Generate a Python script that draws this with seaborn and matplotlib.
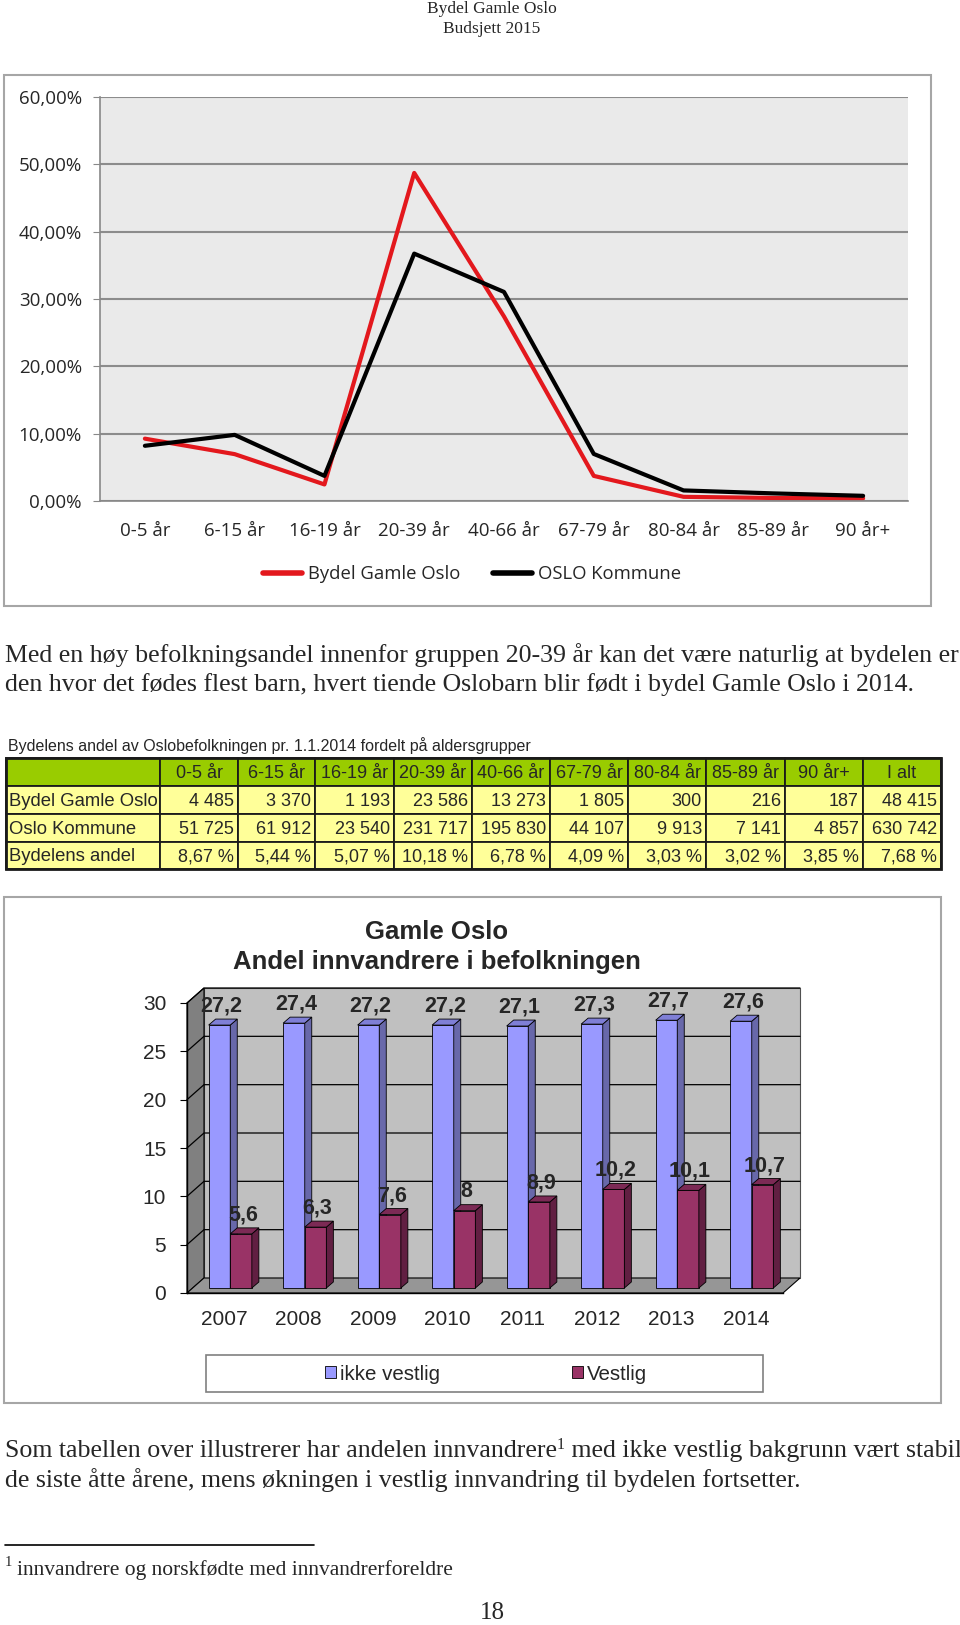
import numpy as np
import pandas as pd
import matplotlib
matplotlib.use("Agg")
import matplotlib.pyplot as plt
import matplotlib.patches as mpatches
from matplotlib.ticker import FuncFormatter
import seaborn as sns

W, H = 960, 1625

# linjediagram - andel av befolkningen per aldersgruppe
grupper = ['0-5 år', '6-15 år', '16-19 år', '20-39 år', '40-66 år', '67-79 år', '80-84 år', '85-89 år', '90 år+']
andel_gamle_oslo = [0.0926, 0.0696, 0.0246, 0.4872, 0.2741, 0.0373, 0.0062, 0.0045, 0.0039]
andel_oslo = [0.0820, 0.0982, 0.0373, 0.3674, 0.3105, 0.0699, 0.0157, 0.0113, 0.0077]
serier = ['Bydel Gamle Oslo', 'OSLO Kommune']

# tabell
tab_tittel = 'Bydelens andel av Oslobefolkningen pr. 1.1.2014 fordelt på aldersgrupper'
tab_kolonner = grupper + ['I alt']
tab_rader = ['Bydel Gamle Oslo', 'Oslo Kommune', 'Bydelens andel']
gamle_oslo_antall = ['4 485', '3 370', '1 193', '23 586', '13 273', '1 805', '300', '216', '187', '48 415']
oslo_antall = ['51 725', '61 912', '23 540', '231 717', '195 830', '44 107', '9 913', '7 141', '4 857', '630 742']
bydel_andel = ['8,67 %', '5,44 %', '5,07 %', '10,18 %', '6,78 %', '4,09 %', '3,03 %', '3,02 %', '3,85 %', '7,68 %']

# søylediagram - innvandrere
aar = ['2007', '2008', '2009', '2010', '2011', '2012', '2013', '2014']
ikke_vestlig = [27.2, 27.4, 27.2, 27.2, 27.1, 27.3, 27.7, 27.6]
vestlig = [5.6, 6.3, 7.6, 8, 8.9, 10.2, 10.1, 10.7]
bar_serier = ['ikke vestlig', 'Vestlig']

sns.set_style("white")
plt.rcParams['font.family'] = ['Liberation Sans', 'DejaVu Sans']
SERIF = ['Liberation Serif', 'DejaVu Serif']
CAL = ['Open Sans', 'DejaVu Sans']
FS_TEKST = 18.6


def box(l, t, r, b):
    return [l / W, 1 - b / H, (r - l) / W, (b - t) / H]


fig = plt.figure(figsize=(W / 100, H / 100), dpi=100)
bg = fig.add_axes([0, 0, 1, 1], zorder=0)
bg.set_xlim(0, W); bg.set_ylim(H, 0); bg.axis('off')

# sidehode
bg.text(492, 9, 'Bydel Gamle Oslo', ha='center', va='center', fontsize=12.5, family=SERIF)
bg.text(492, 29, 'Budsjett 2015', ha='center', va='center', fontsize=12.5, family=SERIF)

# ---- linjediagram ----
bg.add_patch(mpatches.Rectangle((4, 75), 927, 531, fill=False, ec='#a6a6a6', lw=1.5))
ax1 = fig.add_axes(box(100, 97, 908, 501), zorder=2)
df1 = pd.DataFrame({'pos': list(range(len(grupper))) * 2,
                    'andel': andel_gamle_oslo + andel_oslo,
                    'serie': [serier[0]] * len(grupper) + [serier[1]] * len(grupper)})
sns.lineplot(data=df1, x='pos', y='andel', hue='serie', palette={serier[0]: '#e3181d', serier[1]: 'black'},
             linewidth=3, ax=ax1, errorbar=None)
ax1.set_facecolor('#eaeaea')
ax1.set_xlim(-0.5, len(grupper) - 0.5); ax1.set_ylim(0, 0.6)
ax1.set_yticks(np.arange(0, 0.61, 0.1))
ax1.yaxis.set_major_formatter(FuncFormatter(lambda v, p: f"{v * 100:.2f}%".replace('.', ',')))
ax1.yaxis.grid(True, color='#8c8c8c', lw=1.5); ax1.set_axisbelow(True)
ax1.set_xticks(range(len(grupper))); ax1.set_xticklabels(grupper)
ax1.set_xticks(np.arange(-0.5, len(grupper), 1), minor=True)
ax1.tick_params(axis='x', which='major', length=0, pad=15, labelsize=13.5)
ax1.tick_params(axis='x', which='minor', length=6, color='#888888', width=1.2)
ax1.tick_params(axis='y', length=5, color='#888888', pad=8, labelsize=13.5, left=True)
for s in ['top', 'right']:
    ax1.spines[s].set_visible(False)
for s in ['left', 'bottom']:
    ax1.spines[s].set_color('#888888'); ax1.spines[s].set_linewidth(1.2)
ax1.set_xlabel(''); ax1.set_ylabel('')
plt.setp(ax1.get_xticklabels() + ax1.get_yticklabels(), family=CAL)
h, l = ax1.get_legend_handles_labels()
leg1 = ax1.legend(h, l, loc='center', bbox_to_anchor=(472 / W, 1 - 574 / H), bbox_transform=fig.transFigure,
                  ncol=2, frameon=False, handlelength=2.1, columnspacing=1.8, handletextpad=0.3,
                  prop={'family': CAL, 'size': 13.3})
for ln in leg1.get_lines():
    ln.set_linewidth(4)

# brødtekst
bg.text(5, 655, 'Med en høy befolkningsandel innenfor gruppen 20-39 år kan det være naturlig at bydelen er',
        va='center', fontsize=FS_TEKST, family=SERIF)
bg.text(5, 685, 'den hvor det fødes flest barn, hvert tiende Oslobarn blir født i bydel Gamle Oslo i 2014.',
        va='center', fontsize=FS_TEKST, family=SERIF)

# ---- tabell ----
bg.text(8, 746, tab_tittel, va='center', fontsize=11.5)
xk = [6, 160, 238, 315, 394, 472, 550, 628, 706, 785, 863, 941]
yr = [758, 786, 814, 842, 869]
celler = [[''] + tab_kolonner, [tab_rader[0]] + gamle_oslo_antall,
          [tab_rader[1]] + oslo_antall, [tab_rader[2]] + bydel_andel]
for i, rad in enumerate(celler):
    for j, tekst in enumerate(rad):
        fc = '#99cc00' if i == 0 else '#ffff99'
        bg.add_patch(mpatches.Rectangle((xk[j], yr[i]), xk[j + 1] - xk[j], yr[i + 1] - yr[i],
                                        fc=fc, ec='#1a1a1a', lw=1.3))
        ym = (yr[i] + yr[i + 1]) / 2 + 1
        if i == 0:
            bg.text((xk[j] + xk[j + 1]) / 2, ym, tekst, ha='center', va='center', fontsize=13)
        elif j == 0:
            bg.text(xk[j] + 3, ym, tekst, ha='left', va='center', fontsize=13.3)
        else:
            bg.text(xk[j + 1] - 4, ym, tekst, ha='right', va='center', fontsize=13)
bg.add_patch(mpatches.Rectangle((xk[0], yr[0]), xk[-1] - xk[0], yr[-1] - yr[0], fill=False, ec='#1a1a1a', lw=2))

# ---- søylediagram ----
bg.add_patch(mpatches.Rectangle((4, 897), 937, 506, fill=False, ec='#a6a6a6', lw=1.5))
bg.text(437, 932, 'Gamle Oslo', ha='center', va='center', fontsize=18.5, fontweight='bold')
bg.text(437, 962, 'Andel innvandrere i befolkningen', ha='center', va='center', fontsize=18.5, fontweight='bold')

ax2 = fig.add_axes(box(187, 1003, 783, 1293), zorder=2)
ax2.set_facecolor('none')
df2 = pd.DataFrame({'år': aar * 2, 'andel': ikke_vestlig + vestlig,
                    'serie': [bar_serier[0]] * len(aar) + [bar_serier[1]] * len(aar)})
sns.barplot(data=df2, x='år', y='andel', hue='serie', palette=['#9999ff', '#993366'], width=0.58,
            saturation=1, edgecolor='black', linewidth=0.6, ax=ax2)
n = len(aar)
ax2.set_xlim(-0.5, n - 0.5); ax2.set_ylim(0, 30)
px_x = n / (783 - 187)
px_y = 30 / (1293 - 1003)
WX, WY = 17 * px_x, 15 * px_y      # veggdybde
BX, BY = 6 * px_x, 5 * px_y        # søylene står midt i dybden
DX, DY = 7 * px_x, 6 * px_y        # søyledybde

x0, x1 = -0.5, n - 0.5
ax2.add_patch(mpatches.Rectangle((x0 + WX, WY), n, 30, fc='#c0c0c0', ec='#505050', lw=0.8, zorder=0.5, clip_on=False))
ax2.add_patch(mpatches.Polygon([(x0, 0), (x0 + WX, WY), (x0 + WX, 30 + WY), (x0, 30)],
                               fc='#808080', ec='black', lw=0.8, zorder=0.6, clip_on=False))
ax2.add_patch(mpatches.Polygon([(x0, 0), (x1, 0), (x1 + WX, WY), (x0 + WX, WY)],
                               fc='#969696', ec='black', lw=0.8, zorder=0.6, clip_on=False))
for v in range(5, 31, 5):
    ax2.plot([x0, x0 + WX, x1 + WX], [v, v + WY, v + WY], color='black', lw=0.9, zorder=0.7, clip_on=False)

sider = ['#6868aa', '#611f42']
topper = ['#7f7fd6', '#7c2a55']
for k, (cont, verdier) in enumerate(zip(ax2.containers, [ikke_vestlig, vestlig])):
    z = 2 + k
    for bar, v in zip(cont, verdier):
        bar.set_x(bar.get_x() + BX)
        bar.set_y(bar.get_y() + BY)
        bar.set_zorder(z)
        x, w, b, hh = bar.get_x(), bar.get_width(), bar.get_y(), bar.get_height()
        ax2.add_patch(mpatches.Polygon([(x + w, b), (x + w + DX, b + DY), (x + w + DX, b + hh + DY), (x + w, b + hh)],
                                       fc=sider[k], ec='black', lw=0.6, zorder=z + 0.1, clip_on=False))
        ax2.add_patch(mpatches.Polygon([(x, b + hh), (x + DX, b + hh + DY), (x + w + DX, b + hh + DY), (x + w, b + hh)],
                                       fc=topper[k], ec='black', lw=0.6, zorder=z + 0.1, clip_on=False))
        ax2.text(x + w / 2 + 2 * px_x, b + hh + 19 * px_y, f"{v:g}".replace('.', ','), ha='center', va='center',
                 fontsize=15.5, fontweight='bold', zorder=6, clip_on=False)

ax2.set_yticks(range(0, 31, 5))
ax2.set_xticks(np.arange(-0.5, n, 1), minor=True)
ax2.tick_params(axis='x', which='major', length=0, pad=12.5, labelsize=15)
ax2.tick_params(axis='x', which='minor', length=6, color='black', width=1)
ax2.tick_params(axis='y', length=5, color='black', pad=10, labelsize=15, left=True)
for s in ['top', 'right']:
    ax2.spines[s].set_visible(False)
for s in ['left', 'bottom']:
    ax2.spines[s].set_color('black'); ax2.spines[s].set_linewidth(1)
ax2.set_xlabel(''); ax2.set_ylabel('')
old = ax2.get_legend()
handles = old.legend_handles
labels = [t.get_text() for t in old.get_texts()]
bg.add_patch(mpatches.Rectangle((206, 1355), 557, 37, fill=False, ec='#808080', lw=1.2))
ax2.legend(handles, labels, loc='center', bbox_to_anchor=(486 / W, 1 - 1374 / H), bbox_transform=fig.transFigure,
           ncol=2, frameon=False, fontsize=14.8, handlelength=0.55, handleheight=0.55, handletextpad=0.2,
           columnspacing=6.4)

# brødtekst med fotnote
t1 = bg.text(5, 1451, 'Som tabellen over illustrerer har andelen innvandrere', va='center', fontsize=FS_TEKST,
             family=SERIF)
sup = bg.annotate('1', xy=(1, 1), xycoords=t1, xytext=(0, 2), textcoords='offset points',
                  ha='left', va='top', fontsize=11.5, family=SERIF)
bg.annotate(' med ikke vestlig bakgrunn vært stabil', xy=(1, 0), xycoords=(sup, t1), ha='left', va='bottom',
            fontsize=FS_TEKST, family=SERIF)
bg.text(5, 1480, 'de siste åtte årene, mens økningen i vestlig innvandring til bydelen fortsetter.',
        va='center', fontsize=FS_TEKST, family=SERIF)
bg.plot([5, 314], [1545, 1545], color='black', lw=1.2)
bg.text(5, 1562, '1', va='center', fontsize=10.5, family=SERIF)
bg.text(17, 1570, 'innvandrere og norskfødte med innvandrerforeldre', va='center', fontsize=15.5, family=SERIF)
bg.text(492, 1613, '18', ha='center', va='center', fontsize=18, family=SERIF)

fig.savefig('out.png', dpi=100, facecolor='white')
